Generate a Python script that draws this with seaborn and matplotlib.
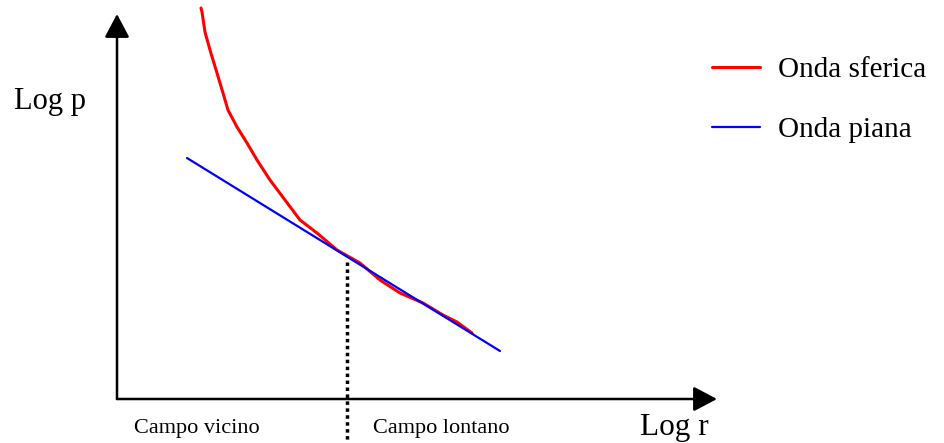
import numpy as np
import pandas as pd
import seaborn as sns
import matplotlib.pyplot as plt

# schematic: log p against log r, origin at the corner of the axes (pixel-like units)
sfer_x = [84, 85, 88, 93, 100, 106, 111, 120, 130, 140, 153, 168, 183, 200,
          220, 243, 263, 283, 306, 326, 340, 355]
sfer_y = [391, 387, 367, 349, 326, 306, 289, 272, 256, 239, 219, 199, 179, 166,
          149, 136, 119, 106, 96, 84, 77, 66]
piana_x = [70, 383]
piana_y = [241, 48]
r_conf = 230      # confine tra campo vicino e campo lontano
p_conf = 137

sns.set_style("white")
plt.rcParams['font.family'] = ['Liberation Serif', 'DejaVu Serif']
plt.rcParams['text.color'] = 'black'

fig = plt.figure(figsize=(9.44, 4.43), dpi=100)
ax = fig.add_axes([0, 0, 1, 1])
ax.set_xlim(-117, 827)
ax.set_ylim(-44, 399)
ax.axis("off")

df_s = pd.DataFrame({"r": sfer_x, "p": sfer_y})
df_p = pd.DataFrame({"r": piana_x, "p": piana_y})
sns.lineplot(data=df_s, x="r", y="p", color="#ff0000", lw=2.2, sort=False,
             ax=ax, label="Onda sferica", legend=False)
sns.lineplot(data=df_p, x="r", y="p", color="#0000ff", lw=1.6, sort=False,
             ax=ax, label="Onda piana", legend=False)

# axes with arrows
head = "-|>,head_length=0.72,head_width=0.38"
ax.annotate("", xy=(600, 0), xytext=(0, 0),
            arrowprops=dict(arrowstyle=head, mutation_scale=20, lw=1.8,
                            color="black", shrinkA=0, shrinkB=0))
ax.annotate("", xy=(0, 385), xytext=(0, 0),
            arrowprops=dict(arrowstyle=head, mutation_scale=20, lw=1.8,
                            color="black", shrinkA=0, shrinkB=0))

# dotted boundary line
ax.plot([r_conf, r_conf], [p_conf, -41], color="black", lw=2.5,
        linestyle=(0, (1, 1)))

ax.text(-103, 298, "Log p", fontsize=22, ha="left", va="center")
ax.text(523, -36, "Log r", fontsize=22.5, ha="left", va="baseline")
ax.text(17, -34, "Campo vicino", fontsize=16, ha="left", va="baseline")
ax.text(256, -34, "Campo lontano", fontsize=16, ha="left", va="baseline")

ax.legend(loc="upper left", bbox_to_anchor=(712 / 944, 1 - 57 / 443),
          frameon=False, fontsize=21, handlelength=1.65, handletextpad=0.6,
          labelspacing=1.15, borderaxespad=0, borderpad=0)

fig.savefig("out.png", dpi=100)
